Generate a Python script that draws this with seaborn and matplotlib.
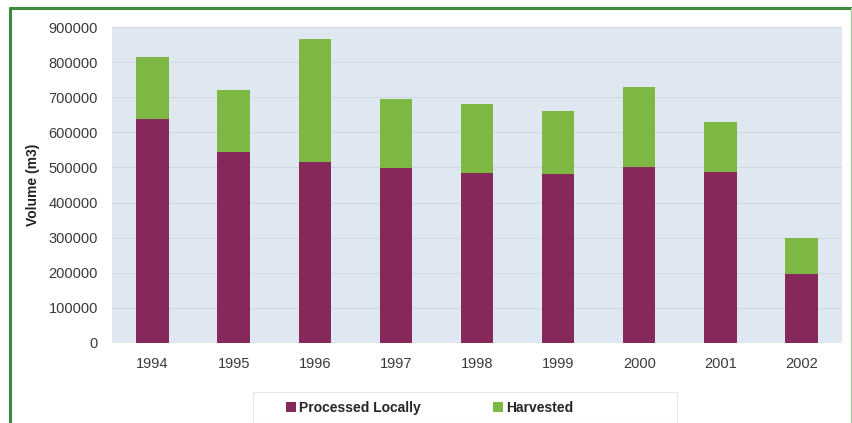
import matplotlib
matplotlib.use("Agg")
import matplotlib.pyplot as plt
import seaborn as sns
import pandas as pd
from matplotlib.patches import Rectangle, Patch
from matplotlib.lines import Line2D
from matplotlib.font_manager import FontProperties

years = ["1994", "1995", "1996", "1997", "1998", "1999", "2000", "2001", "2002"]
harvested = [815000, 720000, 865000, 695000, 681000, 660000, 728000, 630000, 298000]
processed = [637000, 543000, 515000, 497000, 485000, 480000, 502000, 487000, 196000]
yticks = [0, 100000, 200000, 300000, 400000, 500000, 600000, 700000, 800000, 900000]

purple = "#86285a"
green = "#7cb843"

df = pd.DataFrame({"Year": years, "Harvested": harvested, "Processed": processed})

sns.set_theme(style="white")
plt.rcParams["font.family"] = ["Liberation Sans", "DejaVu Sans"]

fig = plt.figure(figsize=(8.53, 4.23), dpi=100)
ax = fig.add_axes([112/853, 1-343/423, (842-112)/853, (343-27)/423])
ax.set_facecolor("#dfe8f1")

sns.barplot(data=df, x="Year", y="Harvested", color=green, width=0.4,
            saturation=1, ax=ax, zorder=3, linewidth=0, edgecolor="none")
sns.barplot(data=df, x="Year", y="Processed", color=purple, width=0.4,
            saturation=1, ax=ax, zorder=4, linewidth=0, edgecolor="none")

ax.set_ylim(0, 900000)
ax.set_yticks(yticks)
ax.set_yticklabels([str(v) for v in yticks])
ax.set_xlim(-0.5, len(years) - 0.5)
ax.yaxis.grid(True, color="#d0d9e2", linewidth=0.8, zorder=0)
ax.set_axisbelow(True)
for s in ax.spines.values():
    s.set_visible(False)
ax.tick_params(axis="both", length=0, labelsize=10.5, labelcolor="#3a3a3a")
ax.tick_params(axis="y", pad=10)
ax.tick_params(axis="x", pad=10)
ax.set_xlabel("")
ax.set_ylabel("Volume (m3)", fontsize=10, fontweight="bold", color="#222222", labelpad=6)

# legend frame (faint)
fig.add_artist(Rectangle((253/853, 0), (677-253)/853, 1-392/423, transform=fig.transFigure,
                         facecolor="white", edgecolor="#e8e8e8", linewidth=0.8))
handles = [Patch(facecolor=purple, edgecolor="none"), Patch(facecolor=green, edgecolor="none")]
legfont = FontProperties(family=["Liberation Sans", "DejaVu Sans"], weight="bold", size=10)
leg = fig.legend(handles, ["Processed Locally", "Harvested"], loc="center",
                 bbox_to_anchor=(430/853, 1-408/423), ncol=2, frameon=False,
                 prop=legfont, handlelength=0.7,
                 handleheight=0.7, handletextpad=0.25, columnspacing=5.2,
                 borderpad=0.2)

# figure border (green frame)
fig.add_artist(Line2D([10.5/853, 10.5/853], [0, 1-8/423], color="#3b8a3e", linewidth=2.2,
                      transform=fig.transFigure))
fig.add_artist(Line2D([10.5/853, 1], [1-8/423, 1-8/423], color="#3b8a3e", linewidth=2.2,
                      transform=fig.transFigure))
fig.add_artist(Line2D([851/853, 851/853], [0, 1-8/423], color="#9fcf9f", linewidth=1.0,
                      transform=fig.transFigure))

fig.savefig("out.png", dpi=100)
